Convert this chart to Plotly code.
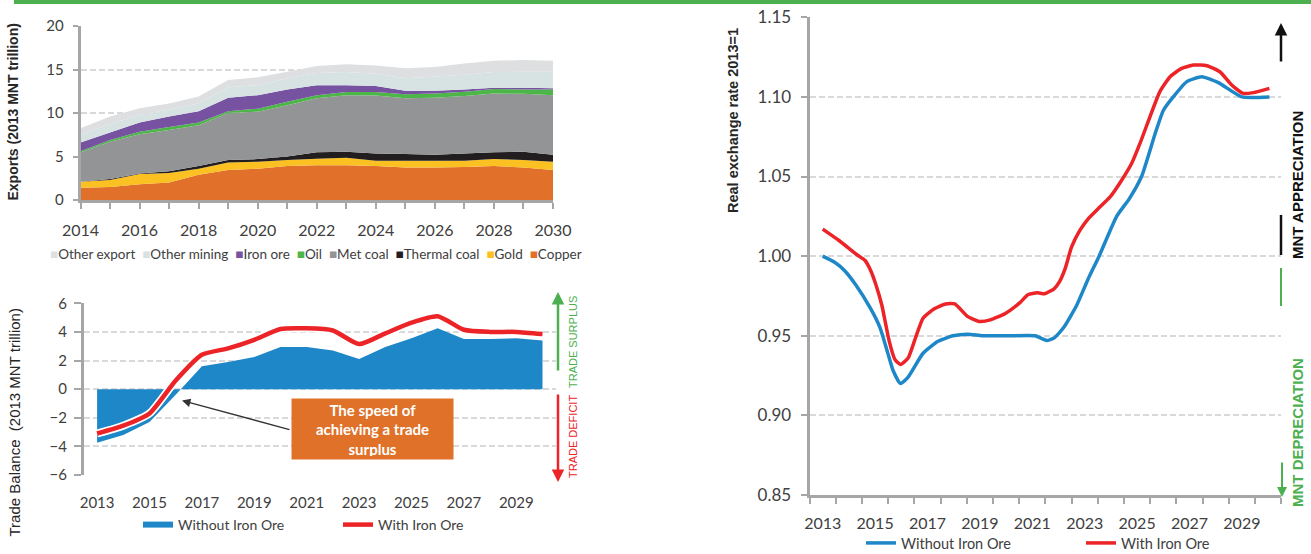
import plotly.graph_objects as go

W, H = 1311, 554

# ---- top-left: exports by commodity, 2013 MNT trillion ----
exp_years = list(range(2014, 2031))
exp_names = ["Copper", "Gold", "Thermal coal", "Met coal", "Oil",
             "Iron ore", "Other mining", "Other export"]
exp_colors = ["#e1702a", "#fbc021", "#221e1f", "#939496", "#4db648",
              "#7652a1", "#d7e3e3", "#dedfe0"]
copper = [1.4, 1.5, 1.8, 2.0, 2.9, 3.45, 3.6, 3.9, 4.0, 4.0, 3.9, 3.75, 3.75, 3.8, 3.9, 3.75, 3.45]
gold = [0.7, 0.8, 1.2, 1.1, 0.7, 0.85, 0.8, 0.7, 0.75, 0.85, 0.6, 0.75, 0.75, 0.7, 0.8, 0.85, 0.95]
thermal_coal = [0.0, 0.1, 0.05, 0.2, 0.3, 0.3, 0.3, 0.4, 0.75, 0.7, 0.85, 0.8, 0.7, 0.85, 0.8, 0.95, 0.8]
met_coal = [3.35, 4.3, 4.5, 4.75, 4.7, 5.4, 5.45, 5.9, 6.2, 6.5, 6.65, 6.4, 6.55, 6.6, 6.75, 6.65, 6.85]
oil = [0.15, 0.2, 0.3, 0.35, 0.3, 0.2, 0.35, 0.4, 0.35, 0.35, 0.4, 0.45, 0.5, 0.5, 0.5, 0.5, 0.65]
iron_ore = [1.0, 0.85, 1.05, 1.2, 1.3, 1.55, 1.55, 1.4, 1.15, 0.8, 0.7, 0.4, 0.3, 0.25, 0.15, 0.2, 0.15]
other_mining = [0.9, 0.95, 0.9, 0.8, 0.9, 1.2, 1.15, 1.3, 1.4, 1.5, 1.4, 1.45, 1.65, 1.7, 1.8, 1.85, 1.9]
other_export = [0.75, 0.9, 0.75, 0.7, 0.8, 0.85, 0.9, 0.75, 0.8, 0.9, 0.95, 1.15, 1.1, 1.3, 1.3, 1.35, 1.25]
exp_series = [copper, gold, thermal_coal, met_coal, oil, iron_ore, other_mining, other_export]

# ---- bottom-left: trade balance ----
tb_years = list(range(2013, 2031))
tb_without = [-3.75, -3.2, -2.3, -0.4, 1.6, 1.9, 2.25, 2.95, 2.95, 2.7, 2.1, 2.95, 3.55, 4.25, 3.5, 3.5, 3.55, 3.4]
tb_with = [-3.1, -2.55, -1.7, 0.6, 2.4, 2.85, 3.45, 4.2, 4.25, 4.1, 3.15, 3.9, 4.65, 5.1, 4.15, 4.0, 4.0, 3.85]

# ---- right: real exchange rate, 2013=1 ----
rer_x_without = [2013.0, 2013.47, 2013.83, 2014.26, 2014.83, 2015.19, 2015.47, 2015.69, 2015.97,
                 2016.26, 2016.83, 2017.4, 2017.97, 2018.54, 2019.11, 2020.1, 2021.11, 2021.54,
                 2021.83, 2022.19, 2022.69, 2023.14, 2023.55, 2024.22, 2024.7, 2025.17, 2025.69,
                 2026.0, 2026.38, 2026.9, 2027.47, 2028.1, 2029.0, 2030.05]
rer_without = [1.000, 0.996, 0.991, 0.982, 0.967, 0.955, 0.940, 0.928, 0.920,
               0.924, 0.939, 0.9465, 0.950, 0.951, 0.950, 0.950, 0.950, 0.947,
               0.9486, 0.955, 0.969, 0.986, 1.000, 1.025, 1.036, 1.050, 1.077,
               1.0915, 1.100, 1.1096, 1.1127, 1.109, 1.100, 1.100]
rer_x_with = [2013.0, 2013.61, 2014.33, 2014.61, 2014.83, 2015.04, 2015.26, 2015.54, 2015.76,
              2015.97, 2016.26, 2016.54, 2016.83, 2017.26, 2017.69, 2018.04, 2018.54, 2018.97,
              2019.4, 2019.97, 2020.54, 2020.83, 2021.19, 2021.47, 2021.83, 2022.04, 2022.25,
              2022.5, 2022.82, 2023.14, 2023.52, 2023.97, 2024.41, 2024.79, 2025.11, 2025.49,
              2025.87, 2026.26, 2026.7, 2027.15, 2027.66, 2028.16, 2028.61, 2029.05, 2029.44, 2030.05]
rer_with = [1.017, 1.010, 1.0006, 0.9974, 0.991, 0.9816, 0.969, 0.9465, 0.935,
            0.932, 0.936, 0.9486, 0.961, 0.967, 0.970, 0.970, 0.962, 0.959,
            0.960, 0.964, 0.971, 0.9758, 0.977, 0.9764, 0.9795, 0.984, 0.992,
            1.0058, 1.0163, 1.0236, 1.0299, 1.0372, 1.0477, 1.0582, 1.0708, 1.0875,
            1.1033, 1.1127, 1.1179, 1.120, 1.1196, 1.1158, 1.1075, 1.1022, 1.1027, 1.1054]

BLUE = "#1e87c8"
RED = "#ec2327"
GREEN = "#4cb050"
AX = "#a6a6a6"
GRID = "#d9d9d9"
TXT = "#404040"
FONT = "Lato, 'Open Sans', sans-serif"
ARIAL = "'Liberation Sans', Arial, sans-serif"


def px(x):
    return x / W


def py(y):
    return 1 - y / H


def label(text, x, y, size, color, family=ARIAL, angle=-90):
    fig.add_annotation(text=text, xref="paper", yref="paper", x=px(x), y=py(y),
                       xanchor="center", yanchor="middle", textangle=angle,
                       showarrow=False, font=dict(family=family, size=size, color=color))


def arrow(x, y_head, y_tail, color, width=2.5):
    fig.add_annotation(text="", xref="paper", yref="paper", x=px(x), y=py(y_head),
                       ax=0, ay=y_tail - y_head, showarrow=True, arrowhead=2,
                       arrowsize=1, arrowwidth=width, arrowcolor=color)


fig = go.Figure()

for name, color, vals in zip(exp_names, exp_colors, exp_series):
    fig.add_trace(go.Scatter(
        x=exp_years, y=vals, name=name, stackgroup="exp",
        mode="none", fillcolor=color, showlegend=False,
        xaxis="x", yaxis="y"))

fig.add_trace(go.Scatter(
    x=tb_years, y=tb_without, name="Without Iron Ore", mode="none",
    fill="tozeroy", fillcolor=BLUE, xaxis="x2", yaxis="y2", legend="legend2"))
fig.add_trace(go.Scatter(
    x=tb_years, y=tb_with, mode="lines", showlegend=False, hoverinfo="skip",
    line=dict(color="white", width=8, shape="spline", smoothing=0.6),
    xaxis="x2", yaxis="y2"))
fig.add_trace(go.Scatter(
    x=tb_years, y=tb_with, name="With Iron Ore", mode="lines",
    line=dict(color=RED, width=4.5, shape="spline", smoothing=0.6),
    xaxis="x2", yaxis="y2", legend="legend2"))

fig.add_trace(go.Scatter(
    x=rer_x_without, y=rer_without, name="Without Iron Ore", mode="lines",
    line=dict(color=BLUE, width=3.5, shape="spline", smoothing=0.5),
    xaxis="x3", yaxis="y3", legend="legend3"))
fig.add_trace(go.Scatter(
    x=rer_x_with, y=rer_with, name="With Iron Ore", mode="lines",
    line=dict(color=RED, width=3.5, shape="spline", smoothing=0.5),
    xaxis="x3", yaxis="y3", legend="legend3"))

tick_font = dict(family=FONT, size=15, color=TXT)
grid = dict(showgrid=True, gridcolor=GRID, gridwidth=2, griddash="6px,3px", zeroline=False)

fig.update_layout(
    width=W, height=H, margin=dict(l=0, r=0, t=0, b=0, autoexpand=False),
    paper_bgcolor="white", plot_bgcolor="white",
    font=dict(family=FONT, color=TXT),
    xaxis=dict(domain=[px(80.5), px(553)], range=[2014, 2030], anchor="y", automargin=False,
               tickmode="array", tickvals=list(range(2014, 2031, 2)),
               ticks="outside", ticklen=6, tickwidth=2, tickcolor=AX,
               minor=dict(tickmode="linear", tick0=2014, dtick=1, ticks="outside",
                          ticklen=6, tickwidth=2, tickcolor=AX),
               showline=True, linecolor=AX, linewidth=2.5, showgrid=False,
               zeroline=False, tickfont=dict(family=FONT, size=16, color=TXT),
               ticklabelstandoff=8),
    yaxis=dict(domain=[py(200), py(26)], range=[0, 20], anchor="x", automargin=False,
               tickvals=[0, 5, 10, 15, 20], ticks="outside", ticklen=5, tickwidth=2,
               tickcolor=AX, showline=True, linecolor=AX, linewidth=2.5,
               tickfont=tick_font, ticklabelstandoff=6, **grid),
    xaxis2=dict(domain=[px(84), px(555.6)], range=[2012.5, 2030.5], anchor="y2",
                automargin=False,
                tickmode="array", tickvals=list(range(2013, 2030, 2)), ticks="",
                showline=False, showgrid=False, zeroline=False,
                tickfont=tick_font, ticklabelstandoff=17),
    yaxis2=dict(domain=[py(475), py(303.3)], range=[-6, 6], anchor="x2", automargin=False,
                tickvals=list(range(-6, 7, 2)), ticks="outside", ticklen=7, tickwidth=2,
                tickcolor=AX, showline=True, linecolor=AX, linewidth=3,
                tickfont=tick_font, ticklabelstandoff=4, **grid),
    xaxis3=dict(domain=[px(809.6), px(1281.2)], range=[2012.5, 2030.5], anchor="y3",
                automargin=False,
                tickmode="array", tickvals=list(range(2013, 2030, 2)), ticks="",
                minor=dict(tickmode="linear", tick0=2012.5, dtick=1, ticks="outside",
                           ticklen=6, tickwidth=2, tickcolor=AX),
                showline=True, linecolor=AX, linewidth=3, showgrid=False, zeroline=False,
                tickfont=dict(family=FONT, size=16, color=TXT), ticklabelstandoff=12),
    yaxis3=dict(domain=[py(495), py(17.3)], range=[0.85, 1.15], anchor="x3", automargin=False,
                tickvals=[0.85, 0.90, 0.95, 1.00, 1.05, 1.10, 1.15], tickformat=".2f",
                ticks="outside", ticklen=6, tickwidth=2, tickcolor=AX,
                showline=True, linecolor=AX, linewidth=3,
                tickfont=dict(family=FONT, size=17, color=TXT), ticklabelstandoff=6, **grid),
    legend2=dict(orientation="h", x=px(138), xanchor="left", y=py(525), yanchor="middle",
                 entrywidth=155, font=dict(family=FONT, size=14, color=TXT),
                 bgcolor="rgba(0,0,0,0)"),
    legend3=dict(orientation="h", x=px(861), xanchor="left", y=py(543), yanchor="middle",
                 entrywidth=175, font=dict(family=FONT, size=14.5, color=TXT),
                 bgcolor="rgba(0,0,0,0)"),
)

# top green rule
fig.add_shape(type="rect", xref="paper", yref="paper", x0=px(14), x1=1, y0=py(4), y1=1,
              fillcolor=GREEN, line_width=0)

# legend of the stacked area chart, drawn as one line of text
legend_txt = "\u00a0\u00a0".join(
    f"<span style='color:{c}'>\u25a0</span>{n}"
    for n, c in zip(reversed(exp_names), reversed(exp_colors)))
label(legend_txt, 316, 254, 13.5, TXT, family=FONT, angle=0)

# axis titles
label("<b>Exports (2013 MNT trillion)</b>", 12, 112.5, 14, "#262626")
label("Trade Balance  (2013 MNT trillion)", 14, 422.5, 15, "#262626")
label("<b>Real exchange rate 2013=1</b>", 733, 121, 14.5, "#262626")

# callout box + arrow
fig.add_annotation(text="<b>The speed of<br>achieving a trade<br>surplus</b>",
                   xref="paper", yref="paper", x=px(372.5), y=py(429),
                   xanchor="center", yanchor="middle", showarrow=False,
                   bgcolor="#e07128", width=155, height=54, borderpad=3,
                   font=dict(family=FONT, size=15, color="white"))
fig.add_annotation(text="", xref="x2", yref="y2", x=2016.24, y=-0.8,
                   axref="x2", ayref="y2", ax=2020.4, ay=-2.85, showarrow=True,
                   arrowhead=2, arrowsize=1.3, arrowwidth=1.3, arrowcolor="#333333")

# trade surplus / deficit markers
arrow(558, 292, 372, GREEN)
arrow(558, 482, 393, RED)
label("TRADE SURPLUS", 573, 342, 11, GREEN)
label("TRADE DEFICIT", 573, 437, 11, RED)

# appreciation / depreciation markers
arrow(1281, 23, 63, "#111111")
fig.add_shape(type="line", xref="paper", yref="paper", x0=px(1281), x1=px(1281),
              y0=py(215), y1=py(255), line=dict(color="#111111", width=2.5))
fig.add_shape(type="line", xref="paper", yref="paper", x0=px(1281), x1=px(1281),
              y0=py(268), y1=py(306), line=dict(color=GREEN, width=2))
arrow(1282, 497, 461, GREEN, width=2)
label("<b>MNT APPRECIATION</b>", 1297, 185, 15, "#111111")
label("<b>MNT DEPRECIATION</b>", 1297, 433, 15, GREEN)

fig.write_html("out.html", config={"displayModeBar": False},
               post_script="document.body.style.margin='0px';")
